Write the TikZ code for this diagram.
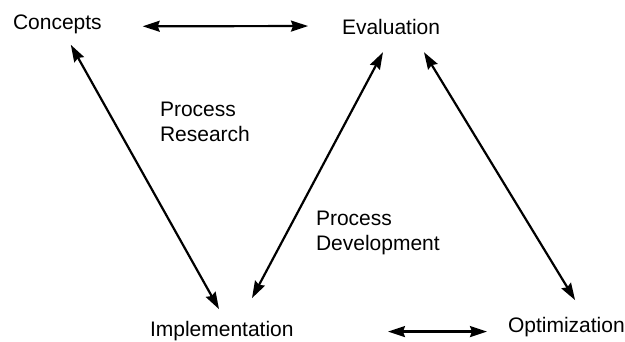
\documentclass[tikz,border=0pt]{standalone}
\usepackage{fontspec}
\setmainfont{Liberation Sans}
\usetikzlibrary{arrows.meta}

\begin{document}
\begin{tikzpicture}[x=1pt, y=-1pt, >={Stealth[length=17pt, width=11pt, inset=2pt]},
  line cap=round, line join=round]

  % Parameters
  \def\lw{2.2pt}     % connector width
  \tikzset{
    lbl/.style={inner sep=0, outer sep=0, anchor=base west,
      font=\fontsize{21}{25}\selectfont},
    duo/.style={align=left, inner sep=0, outer sep=0, anchor=north west,
      font=\fontsize{21}{25}\selectfont},
    dbl/.style={<->, line width=\lw},
  }

  % ---- Frame ----
  \useasboundingbox (0,0) rectangle (625,342);

  % ---- Stages ----
  \node[lbl] (concepts)       at (13,30)   {Concepts};
  \node[lbl] (evaluation)     at (342,35)  {Evaluation};
  \node[lbl] (implementation) at (150,337) {Implementation};
  \node[lbl] (optimization)   at (508,333) {Optimization};

  % ---- Phase labels ----
  \node[duo] (research)    at (160,102) {Process\\Research};
  \node[duo] (development) at (316,211) {Process\\Development};

  % ---- Two-way links ----
  \draw[dbl, shorten <=41pt, shorten >=34pt]
    ([yshift=-1.5pt]concepts.east) -- ([yshift=1.5pt]evaluation.west);
  \draw[dbl, shorten <=12pt, shorten >=14.5pt]
    ([xshift=7.6pt]concepts.south) -- ([xshift=4.3pt]implementation.north);
  \draw[dbl, shorten <=26.8pt, shorten >=19.3pt]
    ([xshift=17.6pt]implementation.north) -- ([xshift=1pt]evaluation.south);
  \draw[dbl, shorten <=19.9pt, shorten >=20.7pt]
    ([xshift=22.6pt]evaluation.south) -- ([xshift=19.5pt]optimization.north);
  \draw[dbl, shorten <=94.4pt, shorten >=21pt]
    (implementation.east) -- (optimization.west |- implementation.east);

\end{tikzpicture}
\end{document}
